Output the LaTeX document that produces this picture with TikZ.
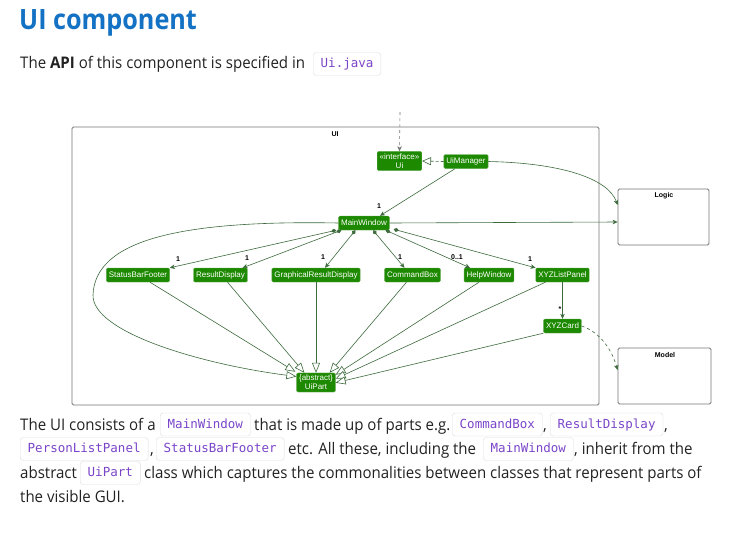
\documentclass[tikz,border=0pt]{standalone}
\usepackage{fontspec}
\setmainfont{Liberation Sans}
\newfontfamily\bodyfont[FakeStretch=0.94]{Open Sans}
\newfontfamily\titlefont[FakeStretch=0.9]{Open Sans}
\newfontfamily\codefont{DejaVu Sans Mono}
\newfontfamily\dfont{Liberation Sans}
\usetikzlibrary{arrows.meta}
\definecolor{uigreen}{HTML}{1D8900}
\definecolor{uiborder}{HTML}{5FA84A}
\definecolor{lc}{HTML}{3D6B3D}
\definecolor{titleblue}{HTML}{1472C4}
\definecolor{codepurple}{HTML}{7B45C9}
\definecolor{codeborder}{HTML}{DDDDDD}
\definecolor{framegray}{HTML}{767676}
\definecolor{bodytext}{HTML}{222222}
\tikzset{
  bodytxt/.style={anchor=base west, inner sep=0pt, text=bodytext, font=\bodyfont\fontsize{16}{19}\selectfont},
  codebox/.style={anchor=west, draw=codeborder, fill=white, rounded corners=3pt, text=codepurple,
    font=\codefont\fontsize{12.5}{14}\selectfont, inner xsep=7.5pt, inner ysep=0pt,
    minimum height=23pt, text height=9.5pt, text depth=2.5pt},
  uinode/.style={fill=uigreen, draw=uiborder, line width=0.4pt, text=white, rounded corners=1.2pt,
    font=\dfont\fontsize{8}{9.5}\selectfont, inner xsep=2.5pt, inner ysep=0pt,
    minimum height=14pt, text height=6pt, text depth=1.7pt},
  uinode2/.style={fill=uigreen, draw=uiborder, line width=0.4pt, text=white, rounded corners=1.2pt,
    font=\dfont\fontsize{8}{9.2}\selectfont, inner xsep=2.5pt, inner ysep=2pt, align=center},
  pkg/.style={draw=framegray, line width=0.8pt, rounded corners=1.5pt, inner sep=0pt},
  pkglabel/.style={font=\dfont\bfseries\fontsize{7}{8}\selectfont, inner sep=0pt},
  mult/.style={font=\dfont\bfseries\fontsize{7}{8}\selectfont, inner sep=0pt, text=black},
  assoc/.style={draw=lc, line width=0.6pt, -{Stealth[length=5pt,width=4.5pt,inset=1.5pt]}},
  comp/.style={draw=lc, line width=0.6pt, {Diamond[length=5.5pt,width=4pt,fill=lc]}-{Stealth[length=5pt,width=4.5pt,inset=1.5pt]}},
  gen/.style={draw=lc, line width=0.6pt, -{Triangle[open,length=10pt,width=8pt,fill=white]}},
  realize/.style={draw=lc, line width=0.6pt, dash pattern=on 3pt off 2pt, -{Triangle[open,length=9pt,width=8pt,fill=white]}},
  dep/.style={draw=lc, line width=0.6pt, dash pattern=on 3pt off 3pt, -{Stealth[length=5pt,width=4.5pt,inset=1.5pt]}},
}
\begin{document}
\begin{tikzpicture}[x=1pt,y=-1pt]
\path[fill=white] (0,0) rectangle (737,560);
\useasboundingbox (0,0) rectangle (737,560);

% ---- page text ----
\node[anchor=base west, inner sep=0pt, text=titleblue, font=\titlefont\bfseries\fontsize{28}{30}\selectfont] (title) at (19,29) {UI component};
\node[bodytxt] (api) at (20,68) {The \textbf{API} of this component is specified in};
\node[codebox] (uijava) at (313,64) {Ui.java};

% line 1
\node[bodytxt] (l1a) at (20,430.5) {The UI consists of a};
\node[codebox] (c1) at (160,424.5) {MainWindow};
\node[bodytxt] (l1b) at (254,430.5) {that is made up of parts e.g.};
\node[codebox] (c2) at (452,424.5) {CommandBox};
\node[bodytxt] (l1c) at (543,430.5) {,};
\node[codebox] (c3) at (550,424.5) {ResultDisplay};
\node[bodytxt] (l1d) at (664,430.5) {,};
% line 2
\node[codebox] (c4) at (20,449) {PersonListPanel};
\node[bodytxt] (l2a) at (150,454.5) {,};
\node[codebox] (c5) at (156,449) {StatusBarFooter};
\node[bodytxt] (l2b) at (288,454.5) {etc. All these, including the};
\node[codebox] (c6) at (483,449) {MainWindow};
\node[bodytxt] (l2c) at (574,454.5) {, inherit from the};
% line 3
\node[bodytxt] (l3a) at (20,478.5) {abstract};
\node[codebox] (c7) at (80,473) {UiPart};
\node[bodytxt] (l3b) at (144,478.5) {class which captures the commonalities between classes that represent parts of};
% line 4
\node[bodytxt] (l4a) at (20,502.5) {the visible GUI.};

% ---- diagram ----
\node[pkg, minimum width=527pt, minimum height=278pt] (uiframe) at (335.5,266) {};
\node[pkglabel] (uilabel) at (335,134) {UI};
\node[pkg, minimum width=91pt, minimum height=56pt] (logic) at (663.5,217) {};
\node[pkglabel] (logiclabel) at (664,196) {Logic};
\node[pkg, minimum width=93pt, minimum height=56pt] (model) at (664.5,376) {};
\node[pkglabel] (modellabel) at (665,355) {Model};

\node[uinode2] (ui) at (399.5,161) {«interface»\\Ui};
\node[uinode] (uimanager) at (466,161.5) {UiManager};
\node[uinode] (mainwindow) at (364,223) {MainWindow};
\node[uinode] (statusbar) at (138,275) {StatusBarFooter};
\node[uinode] (resultdisplay) at (220.5,275) {ResultDisplay};
\node[uinode] (graphical) at (316,275) {GraphicalResultDisplay};
\node[uinode] (commandbox) at (412.5,275) {CommandBox};
\node[uinode] (helpwindow) at (489,275) {HelpWindow};
\node[uinode] (listpanel) at (562.5,275) {XYZListPanel};
\node[uinode] (card) at (562.5,326) {XYZCard};
\node[uinode2] (uipart) at (316,382.5) {\{abstract\}\\UiPart};

\coordinate (topin) at (400,112);

% connectors
\draw[dep, draw=framegray] (topin) -- (ui.north);
\draw[realize] (uimanager.west) -- (ui.east);
\draw[assoc] ([xshift=-11pt]uimanager.south) -- ([xshift=16pt]mainwindow.north);
\node[mult] (m0) at (379,206) {1};
\draw[assoc] (uimanager.east) .. controls (560,163) and (608,178) .. ([yshift=12pt]logic.west);
\draw[assoc] (mainwindow.east) -- ([yshift=-5pt]logic.west);

\draw[comp] ([xshift=-2pt]mainwindow.south west) -- (statusbar.north east);
\node[mult] (m1) at (178,259) {1};
\draw[comp] ([xshift=3pt]mainwindow.south west) -- ([xshift=-5pt]resultdisplay.north east);
\node[mult] (m2) at (247,258) {1};
\draw[comp] ([xshift=17pt]mainwindow.south west) -- ([xshift=9pt]graphical.north);
\node[mult] (m3) at (323,257) {1};
\draw[comp] ([xshift=9pt]mainwindow.south) -- ([xshift=-8pt]commandbox.north);
\node[mult] (m4) at (400,257) {1};
\draw[comp] ([xshift=-4pt]mainwindow.south east) -- ([xshift=-19pt]helpwindow.north);
\node[mult] (m5) at (457,257) {0..1};
\draw[comp] ([xshift=4pt,yshift=1pt]mainwindow.south east) -- (listpanel.north west);
\node[mult] (m6) at (530,259) {1};
\draw[assoc] (listpanel.south) -- (card.north);
\node[mult] (m7) at (560,309) {*};
\draw[dep] (card.east) .. controls (600,332) and (612,350) .. ([yshift=6pt]model.west);

% generalizations
\draw[gen] ([xshift=12pt]statusbar.south) -- ([xshift=-1pt,yshift=1pt]uipart.north west);
\draw[gen] ([xshift=7pt]resultdisplay.south) -- ([xshift=8pt]uipart.north west);
\draw[gen] (graphical.south) -- (uipart.north);
\draw[gen] ([xshift=-6pt]commandbox.south) -- ([xshift=-6pt]uipart.north east);
\draw[gen] ([xshift=-10pt]helpwindow.south) -- ([yshift=-2pt]uipart.north east);
\draw[gen] ([xshift=-17pt]listpanel.south) -- ([yshift=-6pt]uipart.north east);
\draw[gen] (card.south west) -- ([yshift=-10pt]uipart.north east);
\draw[gen] (mainwindow.west) .. controls (180,220) and (95,240) .. (93,295)
  .. controls (92,332) and (200,364) .. ([yshift=6pt]uipart.west);
\end{tikzpicture}
\end{document}
